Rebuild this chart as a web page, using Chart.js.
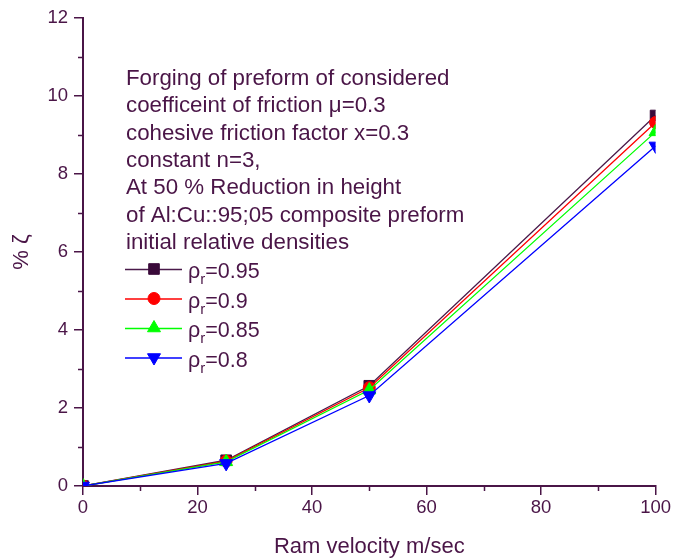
<!DOCTYPE html>
<html>
<head>
<meta charset="utf-8">
<script src="https://cdn.jsdelivr.net/npm/chart.js@4.4.1/dist/chart.umd.min.js"></script>
<style>
  body { margin: 0; background: #fff; }
</style>
</head>
<body>
<canvas id="myChart" width="673" height="560"></canvas>
<script>
// data
const velocity = [0, 25, 50, 100];
const rho095 = [0, 0.66, 2.57, 9.5];
const rho09 = [0, 0.64, 2.52, 9.32];
const rho085 = [0, 0.62, 2.46, 9.08];
const rho08 = [0, 0.58, 2.32, 8.72];
const densityLabels = ['0.95', '0.9', '0.85', '0.8'];
const xMinorTicks = [10, 30, 50, 70, 90];
const yMinorTicks = [1, 3, 5, 7, 9, 11];
const noteLines = [
    'Forging of preform of considered',
    'coefficeint of friction \u03bc=0.3',
    'cohesive friction factor x=0.3',
    'constant n=3,',
    'At 50 % Reduction in height',
    'of Al:Cu::95;05 composite preform',
    'initial relative densities',
];

const ink = '#4a1547';
const fontFamily = '"Liberation Sans", Arial, sans-serif';

function makeSet(label, values, color, markerColor, style, rotation, radius, order) {
    return {
        label: label,
        data: velocity.map((v, i) => ({ x: v, y: values[i] })),
        borderColor: color,
        backgroundColor: markerColor,
        pointBackgroundColor: markerColor,
        pointBorderColor: markerColor,
        pointStyle: style,
        rotation: rotation,
        pointRadius: radius,
        pointHoverRadius: radius,
        borderWidth: 1.3,
        pointBorderWidth: 1,
        tension: 0,
        order: order,
    };
}

const datasets = [
    makeSet(densityLabels[0], rho095, '#4a1a4a', '#3a0a3a', 'rect', 0, 7.5, 4),
    makeSet(densityLabels[1], rho09, '#ff0000', '#ff0000', 'circle', 0, 6, 3),
    makeSet(densityLabels[2], rho085, '#00ff00', '#00ff00', 'triangle', 0, 7.5, 2),
    makeSet(densityLabels[3], rho08, '#0000ff', '#0000ff', 'triangle', 180, 7.5, 1),
];

// small outward minor ticks on both axes
const minorTicks = {
    id: 'minorTicks',
    afterDraw(chart) {
        const ctx = chart.ctx;
        const area = chart.chartArea;
        const xs = chart.scales.x, ys = chart.scales.y;
        ctx.save();
        ctx.strokeStyle = ink;
        ctx.lineWidth = 1.5;
        ctx.beginPath();
        xMinorTicks.forEach(v => {
            const px = Math.round(xs.getPixelForValue(v)) + 0.5;
            ctx.moveTo(px, area.bottom);
            ctx.lineTo(px, area.bottom + 5);
        });
        yMinorTicks.forEach(v => {
            const py = Math.round(ys.getPixelForValue(v)) + 0.5;
            ctx.moveTo(area.left, py);
            ctx.lineTo(area.left - 5, py);
        });
        ctx.stroke();
        ctx.restore();
    }
};

// note text and legend drawn inside the plot
const insideLegend = {
    id: 'insideLegend',
    afterDraw(chart) {
        const ctx = chart.ctx;
        ctx.save();
        ctx.fillStyle = ink;
        ctx.font = '22.3px ' + fontFamily;
        ctx.textBaseline = 'alphabetic';
        noteLines.forEach((t, i) => {
            ctx.fillText(t, 126, 85 + i * 27.3);
        });

        chart.data.datasets.forEach((ds, i) => {
            const y = 269 + i * 29.5;
            ctx.strokeStyle = ds.borderColor;
            ctx.lineWidth = 1.3;
            ctx.beginPath();
            ctx.moveTo(125, y + 0.5);
            ctx.lineTo(182, y + 0.5);
            ctx.stroke();
            ctx.fillStyle = ds.pointBackgroundColor;
            ctx.strokeStyle = ds.pointBorderColor;
            ctx.lineWidth = 1;
            Chart.helpers.drawPoint(ctx, {
                pointStyle: ds.pointStyle,
                rotation: ds.rotation,
                radius: ds.pointRadius,
                borderWidth: 1,
            }, 154, y);

            ctx.fillStyle = ink;
            let x = 188;
            ctx.font = '21.5px ' + fontFamily;
            ctx.fillText('\u03c1', x, y + 9);
            x += ctx.measureText('\u03c1').width;
            ctx.font = '15px ' + fontFamily;
            ctx.fillText('r', x, y + 15);
            x += ctx.measureText('r').width;
            ctx.font = '21.5px ' + fontFamily;
            ctx.fillText('=' + ds.label, x, y + 9);
        });
        ctx.restore();
    }
};

const config = {
    type: 'line',
    data: { datasets: datasets },
    options: {
        responsive: false,
        animation: false,
        layout: { padding: { top: 18, right: 16, left: 0, bottom: 0 } },
        plugins: {
            legend: { display: false },
            tooltip: { enabled: false },
        },
        scales: {
            x: {
                type: 'linear',
                min: 0,
                max: 100,
                ticks: { stepSize: 20, color: ink, padding: 2, font: { size: 18.5, family: fontFamily } },
                grid: { drawOnChartArea: false, drawTicks: true, tickLength: 9, color: ink, lineWidth: 1.5 },
                border: { color: ink, width: 2 },
                title: { display: true, text: 'Ram velocity m/sec', color: ink, padding: { top: 0, bottom: 0 }, font: { size: 22, family: fontFamily } },
                afterFit(scale) { scale.height = 74; },
            },
            y: {
                min: 0,
                max: 12,
                ticks: { stepSize: 2, color: ink, padding: 6, font: { size: 18.5, family: fontFamily } },
                grid: { drawOnChartArea: false, drawTicks: true, tickLength: 9, color: ink, lineWidth: 1.5 },
                border: { color: ink, width: 2 },
                title: { display: true, text: '% \u03b6', color: ink, padding: { top: 9, bottom: 0 }, font: { size: 22, family: fontFamily } },
                afterFit(scale) { scale.width = 83; },
            },
        },
    },
    plugins: [minorTicks, insideLegend],
};

var ctx = document.getElementById('myChart').getContext('2d');
var myChart = new Chart(ctx, config);
</script>
</body>
</html>
